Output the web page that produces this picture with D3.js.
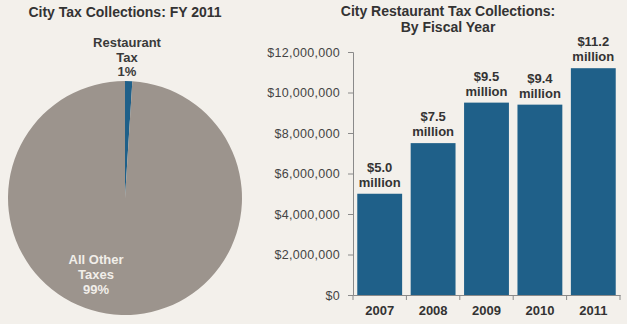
<!DOCTYPE html>
<html>
<head>
<meta charset="utf-8">
<script src="https://cdn.jsdelivr.net/npm/d3@7"></script>
<style>
  body { margin: 0; background: #f3f0eb; }
  svg { display: block; font-family: Arial, "Liberation Sans", sans-serif; }
</style>
</head>
<body>
<div id="chart"></div>
<script>
// pie data: share of FY 2011 city tax collections
var pieNames = ["Restaurant Tax", "All Other Taxes"];
var pieShares = [1, 99];

// bar data: restaurant tax collections by fiscal year
var years = ["2007", "2008", "2009", "2010", "2011"];
var collections = [5.0, 7.5, 9.5, 9.4, 11.2]; // millions of dollars
var yTicks = [0, 2000000, 4000000, 6000000, 8000000, 10000000, 12000000];

var blue = "#1f6089",
    grey = "#9c948d",
    ink = "#333333";

var svg = d3.select("#chart")
  .append("svg")
    .attr("width", 627)
    .attr("height", 324);

svg.append("rect")
    .attr("width", 627)
    .attr("height", 324)
    .attr("fill", "#f3f0eb");

// ---- left: pie ----
svg.append("text")
    .attr("x", 125).attr("y", 17)
    .attr("text-anchor", "middle")
    .style("font-size", "14px").style("font-weight", "bold")
    .attr("fill", ink)
    .text("City Tax Collections: FY 2011");

var radius = 117;
var pieG = svg.append("g")
    .attr("transform", "translate(125,198)");

var pie = d3.pie().sort(null).value(function(d) { return d; });
var arc = d3.arc().innerRadius(0).outerRadius(radius);

pieG.selectAll("path")
    .data(pie(pieShares))
    .enter()
    .append("path")
    .attr("d", arc)
    .attr("fill", function(d, i) { return i == 0 ? blue : grey; });

// slice labels
var restLabel = svg.append("text")
    .attr("text-anchor", "middle")
    .style("font-size", "13px").style("font-weight", "bold")
    .attr("fill", "#3a3a3a");
["Restaurant", "Tax", pieShares[0] + "%"].forEach(function(s, i) {
  restLabel.append("tspan").attr("x", 127).attr("y", 47 + i * 14.5).text(s);
});

var otherLabel = svg.append("text")
    .attr("text-anchor", "middle")
    .style("font-size", "13px").style("font-weight", "bold")
    .attr("fill", "#f1eee9");
["All Other", "Taxes", pieShares[1] + "%"].forEach(function(s, i) {
  otherLabel.append("tspan").attr("x", 96).attr("y", 264 + i * 15).text(s);
});

// ---- right: bars ----
var title2 = svg.append("text")
    .attr("text-anchor", "middle")
    .style("font-size", "14px").style("font-weight", "bold")
    .attr("fill", ink);
title2.append("tspan").attr("x", 448).attr("y", 16).text("City Restaurant Tax Collections:");
title2.append("tspan").attr("x", 448).attr("y", 32).text("By Fiscal Year");

var plotLeft = 353, plotRight = 620, plotTop = 52, plotBottom = 295;

var x = d3.scaleBand()
    .domain(years)
    .range([plotLeft, plotRight])
    .paddingInner(0.16)
    .paddingOuter(0.08);

var y = d3.scaleLinear()
    .domain([0, 12000000])
    .range([plotBottom, plotTop]);

// y axis
var yAxis = svg.append("g")
    .attr("transform", "translate(" + plotLeft + ",0)")
    .call(d3.axisLeft(y)
      .tickValues(yTicks)
      .tickSize(5)
      .tickPadding(8)
      .tickFormat(function(d) { return "$" + d3.format(",")(d); }));
yAxis.select(".domain").attr("stroke", "#8a8a8a");
yAxis.selectAll(".tick line").attr("stroke", "#8a8a8a");
yAxis.selectAll("text")
    .style("font-size", "12.5px")
    .style("letter-spacing", "0.3px")
    .style("font-family", "Arial, 'Liberation Sans', sans-serif")
    .attr("fill", "#444");

// bars
svg.append("g")
  .selectAll("rect")
  .data(collections)
  .enter()
  .append("rect")
    .attr("x", function(d, i) { return x(years[i]); })
    .attr("y", function(d) { return y(d * 1e6); })
    .attr("width", x.bandwidth())
    .attr("height", function(d) { return plotBottom - y(d * 1e6); })
    .attr("fill", blue);

// bar value labels
var vals = svg.append("g")
  .selectAll("text")
  .data(collections)
  .enter()
  .append("text")
    .attr("text-anchor", "middle")
    .style("font-size", "13px").style("font-weight", "bold")
    .attr("fill", ink);
vals.append("tspan")
    .attr("x", function(d, i) { return x(years[i]) + x.bandwidth() / 2; })
    .attr("y", function(d) { return y(d * 1e6) - 22; })
    .text(function(d) { return "$" + d.toFixed(1); });
vals.append("tspan")
    .attr("x", function(d, i) { return x(years[i]) + x.bandwidth() / 2; })
    .attr("y", function(d) { return y(d * 1e6) - 7; })
    .text("million");

// x axis
var xAxis = svg.append("g")
    .attr("transform", "translate(0," + plotBottom + ")")
    .call(d3.axisBottom(x).tickSize(0).tickPadding(11));
xAxis.select(".domain").attr("stroke", "#8a8a8a");
xAxis.selectAll("text")
    .style("font-size", "13px").style("font-weight", "bold")
    .style("font-family", "Arial, 'Liberation Sans', sans-serif")
    .attr("fill", ink);

// tick marks between categories
var edge = x.step() * x.paddingOuter();
var bounds = years.map(function(c) { return x(c) - edge; }).concat([plotRight]);
svg.append("g")
  .selectAll("line")
  .data(bounds)
  .enter()
  .append("line")
    .attr("x1", function(d) { return d; })
    .attr("x2", function(d) { return d; })
    .attr("y1", plotBottom)
    .attr("y2", plotBottom + 5)
    .attr("stroke", "#8a8a8a");
</script>
</body>
</html>
